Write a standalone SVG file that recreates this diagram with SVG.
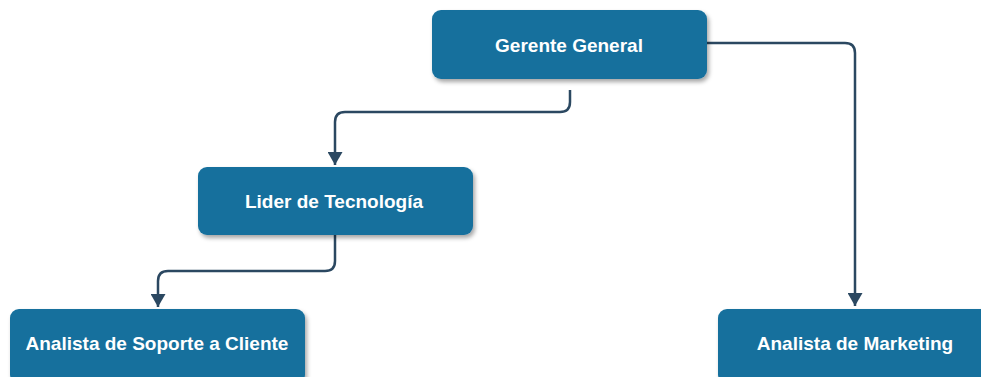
<svg xmlns="http://www.w3.org/2000/svg" width="981" height="377" viewBox="0 0 981 377">
<style>
.box{fill:#17709d;filter:url(#sh)}
.lbl{font-family:"Liberation Sans",Arial,sans-serif;font-weight:bold;font-size:19px;fill:#ffffff;text-anchor:middle;dominant-baseline:central}
.edge{fill:none;stroke:#2b4861;stroke-width:2.5}
</style>
<defs>
<filter id="sh" x="-10%" y="-20%" width="130%" height="150%">
<feDropShadow dx="2" dy="3" stdDeviation="2" flood-color="#000" flood-opacity="0.35"/>
</filter>
<marker id="ah" markerWidth="15" markerHeight="13" refX="7.5" refY="13" orient="0" markerUnits="userSpaceOnUse" viewBox="0 0 15 13">
<path d="M0,0 L15,0 L7.5,13 Z" fill="#2b4861"/>
</marker>
</defs>
<rect width="981" height="377" fill="#ffffff"/>
<g id="connectors">
<path class="edge" d="M707,43 H845 Q855,43 855,53 V306" marker-end="url(#ah)"/>
<path class="edge" d="M570,90 V102 Q570,112 560,112 H345 Q335,112 335,122 V165" marker-end="url(#ah)"/>
<path class="edge" d="M335,235 V261 Q335,271 325,271 H168 Q158,271 158,281 V307" marker-end="url(#ah)"/>
</g>
<g id="gerente">
<rect class="box" x="432" y="10" width="275" height="69" rx="9"/>
<text class="lbl" x="569" y="45">Gerente General</text>
</g>
<g id="lider">
<rect class="box" x="198" y="167" width="275" height="68" rx="9"/>
<text class="lbl" x="334" y="201">Lider de Tecnología</text>
</g>
<g id="soporte">
<rect class="box" x="10" y="309" width="295" height="75" rx="9"/>
<text class="lbl" x="157" y="343">Analista de Soporte a Cliente</text>
</g>
<g id="marketing">
<rect class="box" x="718" y="309" width="275" height="75" rx="9"/>
<text class="lbl" x="855" y="343">Analista de Marketing</text>
</g>
</svg>
